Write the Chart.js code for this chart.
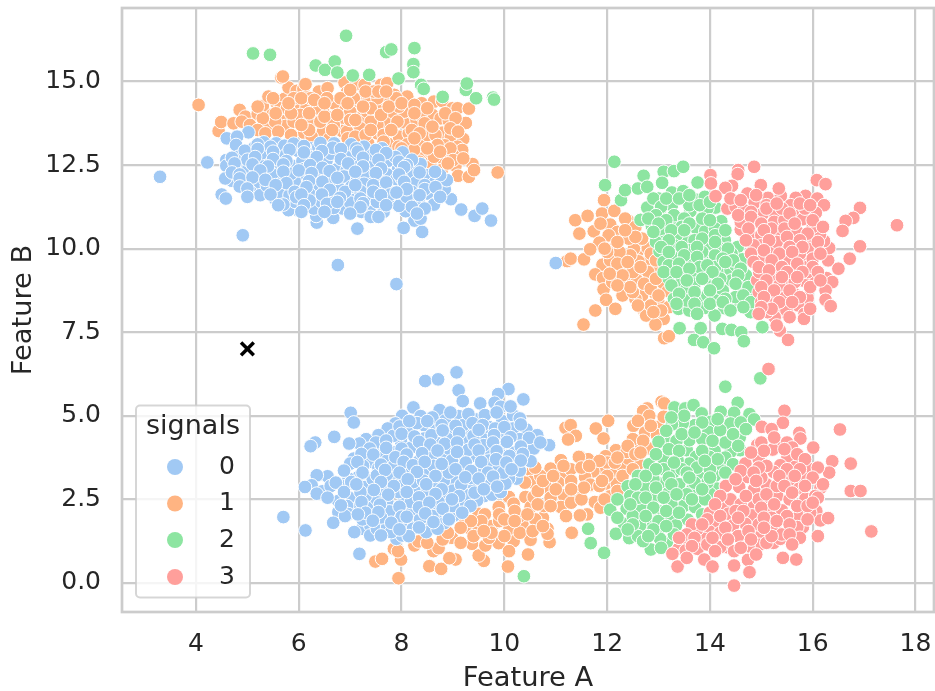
<!DOCTYPE html>
<html>
<head>
<meta charset="utf-8">
<title>signals scatter</title>
<script src="https://cdn.jsdelivr.net/npm/chart.js@4/dist/chart.umd.min.js"></script>
<style>
  html, body { margin: 0; padding: 0; background: #fff; }
  canvas { display: block; }
</style>
</head>
<body>
<canvas id="myChart" width="935" height="691"></canvas>
<script>
const signalNames = ['0', '1', '2', '3'];
const signalColors = ['#a1c9f4', '#ffb482', '#8de5a1', '#ff9f9b'];
const xTicks = [4, 6, 8, 10, 12, 14, 16, 18];
const yTicks = [0, 2.5, 5, 7.5, 10, 12.5, 15];
const crossPoint = [[5, 7]];

// [feature A, feature B]
const signal0 = [
  [3.3,12.15],[4.22,12.58],[4.91,10.4],[6.76,9.51],[7.9,8.94],[4.6,13.3],[5.02,13.48],[4.8,13.35],[4.78,13.1],[5.32,13.18],
  [5.56,13.15],[5.06,12.78],[4.83,12.75],[4.59,12.65],[4.59,12.48],[4.86,12.47],[5.33,12.67],[5.2,12.25],[5.59,12.42],[5.88,12.48],
  [5.98,12.93],[6.23,13.0],[6.19,12.75],[6.54,12.63],[6.69,13.15],[6.74,12.37],[6.11,12.17],[5.67,12.1],[5.51,12.05],[5.17,11.92],
  [4.93,12.03],[4.7,12.03],[4.57,12.1],[4.5,11.62],[4.58,11.5],[5.06,11.7],[5.25,11.6],[5.54,11.48],[6.02,11.83],[6.4,11.87],
  [6.76,11.88],[7.09,12.07],[7.09,12.58],[7.41,12.49],[7.74,12.63],[7.93,12.37],[7.46,12.08],[7.72,11.75],[8.03,11.9],[8.42,12.07],
  [8.37,12.53],[8.63,11.7],[8.5,11.65],[8.33,11.4],[8.63,11.32],[8.96,11.48],[9.16,11.17],[9.42,10.98],[9.57,11.2],[9.74,10.84],
  [8.4,10.5],[8.25,10.84],[8.37,10.9],[8.04,10.62],[8.08,11.12],[7.95,11.28],[7.65,11.1],[7.38,11.1],[7.22,11.1],[7.4,10.95],
  [7.14,10.6],[6.67,10.92],[6.86,11.2],[6.35,10.78],[6.34,10.98],[6.29,11.2],[6.44,11.4],[5.98,11.15],[5.8,11.15],[5.93,11.4],
  [6.94,11.55],[7.38,11.55],[7.52,11.4],[7.1,11.62],[6.68,11.22],[5.13,13.02],[5.72,13.08],[6.38,13.04],[6.92,12.96],[7.27,13.05],
  [7.62,13.0],[8.02,12.88],[5.29,12.86],[5.74,12.79],[6.07,12.62],[6.62,12.84],[7.02,12.79],[7.44,12.82],[7.88,12.74],[8.2,12.66],
  [5.02,12.4],[5.41,12.31],[6.38,12.44],[6.93,12.33],[7.29,12.28],[7.72,12.22],[8.17,12.3],[8.52,12.2],[5.48,12.23],[5.92,12.02],
  [6.43,12.14],[6.88,12.16],[7.27,11.94],[7.9,12.08],[8.28,11.98],[8.72,11.95],[5.38,11.88],[5.74,11.79],[6.2,11.65],[7.02,11.85],
  [7.56,11.78],[8.2,11.7],[8.84,11.78],[5.64,11.66],[5.82,11.6],[6.21,11.44],[6.61,11.6],[7.0,11.38],[7.74,11.5],[8.1,11.55],
  [6.6,12.02],[7.6,12.0],[8.0,12.1],[6.1,12.38],[6.9,11.7],[7.2,11.72],[5.85,12.24],[8.65,11.98],[8.88,12.05],[8.75,12.2],
  [5.2,13.12],[5.45,13.05],[5.9,13.14],[6.1,13.07],[6.42,13.16],[6.66,13.02],[7.02,13.12],[7.12,13.0],[4.95,12.93],[5.2,12.98],
  [5.5,12.9],[5.82,12.96],[6.1,12.88],[6.45,12.92],[6.82,12.98],[7.15,12.9],[7.5,12.95],[7.7,12.86],[4.7,12.72],[5.0,12.66],
  [5.15,12.74],[5.5,12.68],[5.76,12.62],[6.35,12.74],[6.82,12.68],[7.25,12.72],[7.55,12.66],[7.95,12.6],[8.1,12.5],[4.75,12.55],
  [5.1,12.52],[5.4,12.46],[5.7,12.52],[6.22,12.5],[6.46,12.42],[6.96,12.55],[7.25,12.46],[7.6,12.4],[8.05,12.44],[4.7,12.28],
  [4.85,12.22],[5.25,12.34],[5.7,12.3],[6.0,12.34],[6.25,12.26],[6.6,12.32],[7.1,12.3],[7.5,12.26],[7.95,12.22],[8.35,12.28],
  [8.65,12.3],[4.85,12.1],[5.1,12.13],[5.35,12.06],[5.76,11.96],[6.2,12.02],[6.46,12.0],[6.75,12.12],[7.1,11.9],[7.45,11.9],
  [7.7,11.98],[8.05,12.0],[8.45,11.9],[4.85,11.86],[5.0,11.8],[5.55,11.9],[5.92,11.7],[6.15,11.84],[6.6,11.76],[7.2,11.5],
  [7.45,11.7],[7.78,11.62],[8.1,11.78],[8.45,11.78],[8.66,11.84],[5.0,11.55],[5.45,11.62],[5.95,11.54],[6.05,11.62],[6.45,11.62],
  [6.8,11.52],[7.25,11.36],[7.6,11.6],[7.9,11.68],[8.35,11.6],[8.75,11.55],[5.7,11.32],[6.1,11.3],[6.55,11.34],[6.75,11.4],
  [7.2,11.24],[7.7,11.3],[8.2,11.25],[8.45,11.2],[6.05,11.1],[6.5,11.1],[7.0,11.05],[7.55,10.95],[8.3,11.05],[5.6,11.3],
  [11.0,9.57],
  [5.7,1.97],[6.13,1.57],[7.18,0.87],[9.07,6.3],[8.46,6.04],[8.71,6.09],[9.11,5.76],[9.19,5.44],[10.08,5.8],[9.88,5.65],
  [10.37,5.49],[9.53,5.37],[9.81,5.39],[9.93,5.27],[8.23,5.25],[7.01,5.09],[7.07,4.8],[8.01,5.0],[8.74,5.17],[9.11,4.99],
  [9.45,4.89],[9.96,4.84],[10.17,5.02],[8.37,4.99],[8.44,4.72],[7.88,4.77],[7.73,4.62],[7.55,4.42],[7.31,4.3],[7.18,4.17],
  [6.98,4.17],[6.69,4.37],[6.32,4.2],[6.23,4.09],[7.07,3.72],[7.0,3.57],[8.95,4.47],[9.36,4.49],[9.61,4.4],[10.17,4.62],
  [10.43,4.59],[10.64,4.42],[10.87,4.12],[10.41,4.12],[10.57,4.02],[8.12,4.5],[8.44,4.32],[7.99,4.22],[8.18,4.04],[7.9,3.92],
  [7.65,3.92],[7.42,3.62],[7.55,3.45],[7.16,3.17],[6.97,3.12],[7.29,2.87],[7.75,3.19],[6.56,3.19],[6.35,3.22],[6.25,2.92],
  [6.12,2.87],[6.46,2.74],[6.35,2.67],[6.92,2.9],[6.77,2.45],[6.77,2.12],[6.67,1.8],[7.08,2.3],[7.13,2.22],[7.39,2.25],
  [7.72,2.44],[8.04,2.42],[8.42,2.24],[7.51,2.52],[8.25,2.77],[7.94,3.04],[8.23,3.02],[8.46,3.29],[8.72,3.35],[8.8,3.75],
  [9.13,3.75],[9.47,3.77],[9.74,3.84],[9.21,3.4],[9.52,3.42],[9.86,3.45],[10.18,3.55],[10.51,3.64],[10.24,3.12],[10.09,3.12],
  [9.83,3.12],[9.58,2.92],[9.61,2.6],[9.05,3.02],[8.82,3.05],[8.62,2.89],[8.88,2.52],[9.19,2.34],[9.47,2.47],[8.14,1.84],
  [7.86,1.79],[8.53,1.74],[8.83,1.79],[7.9,1.32],[8.01,1.42],[8.48,1.52],[7.23,1.62],[7.08,1.52],[7.39,1.72],[7.39,1.42],
  [7.52,1.62],[7.72,1.67],[7.94,2.07],[9.02,2.02],[8.69,2.12],[9.76,2.64],[9.93,2.72],[10.02,2.97],[7.62,4.14],[7.84,4.4],
  [8.3,4.78],[8.66,4.6],[8.85,4.86],[9.2,4.72],[9.7,4.66],[10.3,4.3],[9.98,4.4],[9.22,4.22],[8.7,4.18],[8.92,4.02],
  [9.3,3.98],[9.95,4.08],[10.2,3.9],[7.25,3.5],[7.72,3.66],[8.32,3.62],[8.58,3.8],[8.1,3.34],[8.62,3.5],[8.98,3.66],
  [9.7,3.66],[9.98,3.8],[7.44,3.1],[7.6,2.8],[7.94,2.72],[8.5,2.7],[9.0,2.76],[9.36,2.8],[9.34,3.14],[8.04,2.94],
  [7.3,2.6],[6.98,2.55],[7.76,2.14],[8.2,2.12],[8.72,2.42],[8.18,2.42],[8.6,2.0],[7.6,1.96],[7.24,1.9],[8.36,1.9],
  [9.0,2.3],[9.3,2.62],[7.8,1.52],[8.22,1.62],[8.7,1.62],[7.52,3.22],[8.92,3.3],[9.74,2.96],[9.98,3.3],[10.3,3.36],
  [8.4,4.12],[9.6,4.12],[7.2,2.72],[6.62,2.9],[9.4,4.4],[8.9,4.3],[7.86,3.52],[7.02,3.02],[8.42,3.06],[9.16,2.94],
  [8.6,4.95],[8.95,5.1],[9.3,5.05],[9.62,5.02],[9.85,5.1],[10.12,5.28],[10.3,4.92],[7.96,4.68],[8.15,4.84],[8.5,4.84],
  [8.78,4.72],[9.05,4.7],[9.38,4.78],[9.58,4.72],[9.82,4.62],[10.0,4.66],[10.32,4.74],[7.5,4.2],[7.7,4.26],[8.0,4.46],
  [8.25,4.38],[8.58,4.42],[8.8,4.56],[9.12,4.48],[9.5,4.58],[9.8,4.42],[10.12,4.36],[10.48,4.34],[7.38,4.02],[7.7,4.04],
  [8.0,4.02],[8.34,4.22],[8.56,4.14],[8.84,4.16],[9.08,4.2],[9.42,4.14],[9.78,4.2],[10.05,4.22],[10.32,4.08],[10.7,4.2],
  [7.22,3.86],[7.45,3.84],[7.88,3.76],[8.1,3.84],[8.4,3.88],[8.7,3.96],[9.08,3.92],[9.5,3.96],[9.85,3.94],[10.1,3.8],
  [10.36,3.86],[7.14,3.62],[7.6,3.54],[8.04,3.62],[8.22,3.52],[8.45,3.62],[8.78,3.56],[9.25,3.6],[9.55,3.62],[9.84,3.7],
  [10.04,3.6],[10.32,3.66],[6.88,3.36],[7.24,3.3],[7.68,3.38],[7.96,3.3],[8.3,3.32],[8.66,3.2],[9.05,3.4],[9.35,3.35],
  [9.68,3.3],[10.14,3.4],[6.72,3.0],[7.12,2.95],[7.6,3.02],[7.85,2.9],[8.12,3.1],[8.48,2.95],[8.78,2.8],[9.24,3.16],
  [9.5,3.12],[9.78,3.18],[6.56,2.55],[6.88,2.72],[7.46,2.78],[7.74,2.64],[8.1,2.72],[8.34,2.56],[8.66,2.66],[9.12,2.6],
  [9.42,2.7],[9.86,2.88],[6.94,2.3],[7.22,2.42],[7.58,2.34],[7.96,2.28],[8.34,2.26],[8.54,2.4],[8.98,2.5],[9.34,2.3],
  [6.96,2.06],[7.3,2.1],[7.55,2.12],[8.0,1.98],[8.46,2.08],[8.8,2.22],[7.44,1.86],[7.8,1.8],[8.1,1.98],[8.34,1.66],
  [8.62,1.82],[8.92,1.9],[7.6,1.42],[8.14,1.4],[7.96,1.6],[6.9,2.0],[7.15,2.05],[6.82,2.32],[9.18,2.1],[9.6,2.8]
];

const signal1 = [
  [4.05,14.3],[4.44,13.52],[4.49,13.79],[4.85,14.15],[4.96,13.95],[4.73,13.75],[4.89,13.8],[5.2,14.03],[5.3,14.27],[5.41,14.55],
  [5.57,14.35],[5.72,14.48],[5.8,14.82],[5.96,14.72],[6.09,14.78],[6.13,14.92],[6.39,14.7],[6.56,14.8],[5.66,15.12],[5.69,15.15],
  [5.48,14.0],[5.7,13.95],[5.4,13.65],[5.74,13.67],[6.1,13.47],[5.96,14.2],[6.15,14.22],[6.26,13.8],[6.47,14.15],[6.47,13.5],
  [6.63,13.92],[6.81,14.2],[6.81,13.8],[6.84,13.52],[6.68,14.35],[6.89,14.97],[6.94,14.68],[7.12,14.92],[7.28,14.9],[7.14,14.3],
  [7.23,14.5],[7.36,14.45],[7.09,13.62],[7.19,13.9],[7.33,14.1],[7.6,14.9],[7.72,14.95],[7.86,14.6],[8.11,14.55],[7.6,14.25],
  [7.69,14.45],[7.82,14.0],[7.69,13.75],[7.53,13.45],[7.35,13.15],[7.77,13.12],[7.95,13.35],[8.05,13.78],[8.14,13.45],[8.11,13.12],
  [8.39,13.18],[8.18,14.1],[8.39,14.35],[8.63,14.4],[8.79,14.42],[8.99,14.2],[9.09,14.2],[9.31,14.19],[8.6,14.0],[8.76,13.9],
  [8.92,13.82],[8.3,13.7],[8.29,13.85],[9.25,13.76],[8.79,13.47],[8.96,13.35],[9.2,13.28],[9.09,13.05],[9.18,12.95],[8.84,13.09],
  [8.16,12.73],[8.56,12.5],[8.81,12.68],[8.78,12.35],[9.05,12.48],[9.38,12.53],[9.1,12.18],[9.31,12.15],[9.41,12.35],[9.87,12.28],
  [8.4,12.75],[8.56,12.9],[8.63,12.75],[7.53,13.7],[6.81,14.5],[6.55,14.5],[6.35,14.2],[5.9,13.8],[5.54,13.8],[6.23,14.5],
  [5.9,14.5],[7.53,14.5],[7.07,14.5],[7.0,14.1],[7.4,13.8],[7.9,14.5],[8.05,14.1],[8.37,14.0],[8.5,13.4],[8.66,13.4],
  [8.7,13.1],[7.65,13.4],[7.92,13.8],[6.42,13.8],[6.68,13.7],[5.64,14.2],[6.03,14.0],[5.3,13.9],[5.77,14.2],[7.2,13.6],
  [6.94,13.5],[7.46,14.7],[7.94,13.05],[8.24,12.95],[9.0,12.8],
  [5.05,13.7],[5.2,13.55],[5.35,13.45],[5.6,13.5],[5.85,13.4],[6.25,13.35],[6.6,13.3],[6.95,13.3],[7.1,13.35],[7.3,13.4],
  [5.55,14.05],[5.85,14.05],[6.2,14.05],[6.5,13.95],[6.75,14.0],[7.0,13.85],[7.4,14.2],[7.6,14.0],[7.95,14.25],[8.2,13.55],
  [5.2,14.25],[5.5,14.5],[5.8,14.35],[6.05,14.5],[6.3,14.45],[6.5,14.35],[6.95,14.35],[7.3,14.7],[7.55,14.7],[7.75,14.25],
  [8.0,14.35],[8.25,14.3],[8.5,14.2],[8.85,14.05],[9.05,13.9],[8.45,13.75],[8.6,13.65],[8.95,13.6],[9.1,13.5],[8.35,13.45],
  [7.8,13.55],[7.4,13.55],[7.1,13.85],[6.2,13.55],[6.05,13.7],[6.65,13.55],[7.0,14.75],[7.7,14.7],[8.25,14.05],[7.25,14.25],
  [8.5,13.0],[8.25,13.3],[8.0,13.0],[7.65,13.2],[8.95,13.0],[8.35,12.6],[8.75,12.9],[9.0,12.65],[9.2,12.7],[8.9,12.55],
  [11.22,9.63],[11.29,9.7],[11.55,9.68],[11.38,10.85],[11.62,10.98],[11.46,10.45],[11.74,10.52],[11.94,11.45],[11.9,11.05],[12.14,11.13],
  [12.06,10.72],[11.87,10.75],[12.2,10.5],[12.03,10.4],[11.85,10.18],[11.67,9.98],[12.13,10.0],[12.4,10.85],[12.35,10.9],[12.55,10.65],
  [12.29,9.75],[12.61,9.95],[12.79,10.02],[12.52,10.0],[11.91,9.52],[11.77,9.23],[11.92,9.12],[12.13,9.35],[12.32,9.42],[12.39,9.08],
  [11.93,8.78],[12.31,8.85],[11.98,8.47],[12.16,8.2],[11.77,8.15],[11.54,7.73],[12.69,9.18],[12.81,9.6],[12.61,9.62],[12.97,9.28],
  [13.09,8.95],[12.78,8.85],[13.18,8.73],[12.68,8.6],[12.55,8.5],[13.0,8.38],[12.94,8.65],[12.71,8.17],[12.76,8.0],[12.99,7.95],
  [13.1,7.9],[12.94,7.73],[13.11,7.32],[13.2,7.38],[13.2,8.25],[12.45,9.4],[12.22,9.2],[12.58,9.05],[12.45,9.8],[12.68,10.3],
  [12.06,9.65],[12.42,10.3],[12.24,9.9],[12.1,9.0],[12.5,9.3],[12.8,9.3],[12.3,8.6],[12.5,8.7],[12.85,8.3],[12.2,10.2],
  [12.55,10.35],[12.35,10.55],[12.2,9.55],[12.0,9.9],[11.95,10.0],[12.4,9.6],[12.65,9.45],[12.3,9.2],[12.72,8.95],[12.45,8.85],
  [12.85,8.8],[12.95,9.1],[13.0,8.6],[12.6,8.3],[13.05,8.15],[12.9,8.1],[12.05,9.25],[12.2,8.9],[12.85,9.85],[12.95,9.65],
  [7.94,0.14],[7.49,0.64],[7.62,0.72],[7.99,0.7],[7.85,1.02],[7.93,0.95],[8.25,1.12],[8.33,1.24],[8.54,0.5],[8.77,0.42],
  [9.05,0.7],[8.93,0.74],[8.62,0.95],[8.72,1.04],[8.98,1.35],[9.6,0.66],[9.5,0.82],[9.37,1.17],[9.63,1.12],[9.89,1.19],
  [10.18,1.25],[10.09,0.95],[10.51,1.29],[10.88,1.22],[10.46,0.85],[10.07,0.49],[10.84,1.62],[10.84,1.47],[11.32,1.5],[11.48,2.02],
  [11.61,2.05],[9.23,1.92],[9.34,1.62],[9.47,1.5],[9.5,2.07],[9.76,1.7],[9.89,2.27],[10.09,2.57],[10.18,2.37],[10.35,1.77],
  [10.41,2.57],[10.51,2.27],[10.57,2.57],[10.75,1.95],[10.77,2.3],[10.54,3.32],[10.51,3.02],[10.84,2.87],[10.9,3.42],[11.1,3.67],
  [11.14,3.27],[11.29,3.4],[11.16,2.62],[11.42,2.72],[11.68,2.92],[11.58,3.17],[11.78,3.32],[11.1,2.27],[11.78,2.42],[11.47,3.77],
  [11.63,3.7],[11.19,4.64],[11.29,4.72],[11.39,4.4],[11.24,4.29],[11.78,4.62],[12.02,4.85],[12.51,4.7],[11.93,4.32],[12.74,4.5],
  [13.0,4.67],[12.97,4.42],[12.49,4.24],[12.64,4.02],[12.17,3.97],[11.97,3.79],[11.45,3.77],[12.38,3.52],[12.15,3.34],[11.87,3.37],
  [11.73,3.34],[12.61,3.57],[11.57,3.17],[11.67,2.94],[11.97,2.97],[12.19,2.97],[11.41,2.72],[12.06,2.59],[11.76,2.42],[11.87,2.25],
  [11.47,2.02],[11.31,1.5],[12.28,3.52],[12.41,3.72],[12.83,4.02],[12.38,3.92],[13.06,5.42],[13.11,5.37],[12.78,5.22],[12.7,5.14],
  [12.82,5.0],[13.1,4.97],[9.62,2.05],[9.9,1.85],[10.1,1.62],[10.3,2.0],[10.6,1.9],[9.7,1.35],[10.0,1.4],[10.3,1.5],
  [10.9,2.55],[11.05,3.0],[10.65,2.75],[11.3,3.05],[11.2,2.0],[9.4,1.4],[9.15,1.2],[8.8,1.3],[8.5,1.2],[10.4,3.0],
  [10.7,3.2],[11.5,3.45],[12.0,3.6],[12.3,3.2],[12.5,4.3],
  [9.55,1.85],[9.9,2.05],[10.2,2.15],[10.45,2.05],[10.65,2.35],[10.9,2.3],[11.0,2.8],[10.75,3.05],[10.95,3.2],[10.6,3.45],
  [11.3,2.4],[11.5,2.5],[11.55,2.85],[11.85,2.9],[11.95,2.5],[10.0,1.9],[10.2,1.85],[9.75,1.5],[9.35,1.85],[9.15,1.65],
  [8.9,1.5],[9.6,1.55],[10.55,1.55],[10.75,1.7],[12.15,3.6],[11.85,3.65],[11.65,3.5],[12.7,4.25],[12.85,4.7],[12.6,4.85],
  [12.4,4.1],[12.55,3.85],[12.2,3.75],[12.5,3.4],[12.65,3.9],[12.0,3.2],[12.2,2.75],[11.9,3.05],[11.3,2.8],[11.15,3.5]
];

const signal2 = [
  [6.92,16.37],[5.11,15.84],[5.44,15.8],[6.33,15.48],[6.51,15.35],[6.7,15.6],[6.75,15.27],[7.05,15.18],[7.37,15.2],[7.7,15.88],
  [7.8,15.96],[8.25,16.0],[8.23,15.52],[8.23,15.28],[7.94,15.09],[8.38,14.9],[8.43,14.78],[8.8,14.54],[9.25,14.75],[9.27,14.94],
  [9.45,14.5],[9.78,14.52],[9.8,14.46],
  [12.14,12.6],[11.96,11.9],[12.27,11.45],[12.35,11.75],[12.6,11.8],[12.71,12.18],[12.78,11.85],[13.1,12.3],[13.3,12.32],[13.48,12.45],
  [13.07,11.97],[13.76,11.98],[13.26,11.68],[13.48,11.72],[13.0,11.5],[12.78,11.23],[13.02,11.05],[13.26,11.3],[13.72,11.47],[13.62,11.12],
  [14.11,11.23],[13.95,11.2],[12.65,10.86],[12.87,10.68],[13.07,10.55],[13.31,10.8],[13.73,10.62],[13.91,10.52],[14.22,10.82],[13.52,10.32],
  [14.29,10.25],[14.54,10.05],[13.02,9.92],[13.2,9.7],[13.36,9.75],[13.91,9.65],[13.23,9.37],[13.48,9.23],[13.74,9.25],[13.95,9.2],
  [14.27,9.42],[14.4,9.37],[14.63,9.68],[13.48,8.78],[14.04,8.87],[14.63,8.87],[13.82,8.52],[13.39,8.2],[13.6,8.15],[13.91,8.23],
  [14.28,8.22],[14.54,8.32],[14.92,8.17],[14.79,8.1],[14.09,8.0],[13.41,7.62],[13.82,7.62],[13.69,7.27],[13.87,7.2],[14.08,7.02],
  [14.24,7.6],[14.42,7.57],[14.61,7.5],[14.66,7.23],[15.02,7.65],[12.9,11.5],[13.3,11.0],[13.6,11.3],[13.9,11.55],[13.5,10.9],
  [13.85,10.9],[14.1,10.6],[13.1,10.2],[13.35,10.4],[13.7,10.25],[13.98,10.15],[14.2,10.0],[12.95,10.2],[13.3,10.1],[13.6,9.95],
  [13.85,9.9],[14.1,9.8],[14.42,9.85],[13.1,9.6],[13.62,9.55],[14.1,9.45],[14.5,9.5],[13.32,9.0],[13.7,8.95],[13.95,8.6],
  [14.25,8.75],[14.42,9.05],[14.7,9.2],[14.8,8.6],[13.3,8.5],[13.55,8.45],[14.1,8.45],[14.5,8.55],[13.2,9.1],[14.2,9.1],
  [13.05,11.25],[13.15,11.5],[13.4,11.5],[13.6,11.6],[13.8,11.3],[14.0,11.4],[12.95,11.0],[13.15,10.85],[13.45,10.65],[13.6,10.75],
  [14.0,10.85],[12.8,10.9],[13.0,10.75],[13.25,10.55],[13.5,10.55],[13.85,10.3],[14.1,10.4],[14.3,10.55],[12.9,10.5],[13.2,10.25],
  [13.45,10.05],[13.75,10.05],[14.1,10.2],[14.35,10.0],[13.05,10.05],[13.2,9.9],[13.5,9.8],[13.75,9.75],[14.25,9.7],[14.45,9.65],
  [13.2,9.5],[13.4,9.55],[13.8,9.45],[13.95,9.5],[14.3,9.6],[14.6,9.4],[13.1,9.3],[13.35,9.3],[13.6,9.4],[14.05,9.3],
  [14.55,9.2],[13.25,8.9],[13.55,9.05],[13.85,9.1],[14.15,8.95],[14.5,8.95],[14.75,8.85],[13.4,8.65],[13.7,8.7],[14.0,8.75],
  [14.3,8.5],[14.65,8.6],[14.8,8.4],[13.35,8.35],[13.7,8.35],[14.0,8.35],[14.25,8.4],[14.65,8.25],[14.4,8.15],[13.75,8.05],
  [10.38,0.2],[11.63,1.62],[11.68,1.19],[11.94,0.9],[14.3,5.87],[14.98,6.12],[14.54,5.39],[13.31,5.25],[13.52,5.22],[13.68,5.32],
  [13.84,5.07],[14.21,5.12],[14.47,5.09],[14.77,5.05],[14.86,4.89],[14.4,4.77],[14.02,4.82],[13.71,4.72],[13.47,4.77],[13.26,4.74],
  [13.97,4.52],[14.2,4.57],[14.58,4.35],[14.59,3.97],[14.4,3.92],[14.09,3.95],[13.99,3.77],[13.55,3.97],[13.73,3.77],[13.6,3.57],
  [13.37,3.67],[13.13,4.27],[13.0,4.22],[13.6,4.27],[14.23,3.49],[14.09,3.2],[13.81,3.15],[13.29,3.3],[12.82,3.55],[13.03,2.97],
  [12.64,2.84],[12.4,2.89],[12.89,2.52],[12.38,2.22],[12.06,2.19],[12.67,2.22],[13.66,2.8],[13.49,2.3],[13.71,2.27],[13.24,1.97],
  [13.57,1.89],[12.85,1.9],[12.33,1.77],[12.17,1.47],[12.43,1.34],[12.74,1.67],[13.0,1.57],[13.16,1.22],[12.85,1.0],[13.34,1.72],
  [14.14,2.82],[14.0,2.67],[12.64,1.72],[13.03,1.32],[13.1,3.7],[13.1,3.4],[12.9,3.1],[12.6,3.2],[12.75,2.85],[12.45,2.6],
  [13.2,2.7],[13.4,2.95],[13.95,3.0],[13.75,3.45],[14.0,3.4],[13.35,4.25],[13.85,4.3],[14.3,4.2],[14.3,3.75],[13.45,3.4],
  [13.9,2.5],[13.25,2.35],[13.0,2.15],[12.6,2.55],[13.0,1.85],[12.5,2.0],[13.85,2.05],[13.3,1.45],[12.6,1.4],[13.7,3.0],
  [13.5,5.0],[13.25,4.95],[13.85,4.8],[14.15,4.9],[14.6,4.8],[13.15,4.55],[13.45,4.45],[13.7,4.5],[14.05,4.25],[14.45,4.45],
  [14.7,4.6],[13.2,4.0],[13.4,3.95],[13.85,3.95],[14.15,3.7],[14.45,3.55],[12.95,3.85],[13.3,3.6],[13.55,3.3],[13.9,3.65],
  [12.95,3.4],[13.2,3.15],[13.6,3.15],[14.0,3.15],[12.75,3.2],[12.95,2.85],[13.25,2.95],[13.55,2.65],[13.85,2.8],[12.55,2.95],
  [12.75,2.55],[13.1,2.55],[13.35,2.65],[13.65,2.5],[12.45,2.35],[12.9,2.25],[13.15,2.15],[13.4,2.1],[12.2,2.5],[12.75,2.0],
  [12.5,1.75],[12.9,1.6],[13.15,1.7],[12.2,1.95],[12.4,1.6],[12.7,1.25],[13.05,1.05],[12.8,1.4],[14.3,3.3],[14.55,4.1]
];

const signal3 = [
  [14.01,12.2],[14.02,11.95],[14.55,12.35],[14.54,12.23],[14.86,12.45],[14.99,11.9],[14.43,11.88],[14.3,11.82],[14.73,11.65],[14.11,11.57],
  [14.34,11.2],[14.5,11.25],[14.66,11.15],[14.87,11.38],[15.13,11.52],[15.38,11.58],[15.34,11.8],[15.86,11.58],[15.67,11.52],[16.08,12.05],
  [16.25,11.93],[16.09,11.5],[16.22,11.3],[16.06,11.07],[15.67,11.13],[15.57,11.3],[15.03,11.05],[15.28,11.0],[15.81,10.88],[15.54,10.77],
  [15.25,10.8],[14.87,10.82],[14.6,10.57],[14.81,10.37],[14.6,10.8],[16.92,11.22],[16.79,10.92],[16.64,10.83],[16.58,10.53],[17.64,10.7],
  [16.92,10.07],[16.72,9.7],[16.3,9.65],[16.32,10.02],[16.22,10.23],[16.08,10.0],[15.96,10.2],[16.14,10.42],[15.6,10.24],[15.19,9.9],
  [14.91,9.9],[15.44,9.65],[15.88,9.68],[15.9,9.45],[15.03,9.44],[15.64,9.3],[15.99,9.18],[15.8,9.05],[16.27,9.12],[16.38,9.0],
  [14.92,9.05],[14.95,8.7],[15.15,8.72],[15.41,8.85],[16.25,8.75],[16.25,8.47],[16.35,8.28],[15.65,8.63],[15.9,8.52],[15.72,8.3],
  [15.84,8.05],[15.83,7.9],[15.38,8.1],[15.49,8.15],[15.26,7.95],[15.36,7.55],[15.52,7.27],[15.15,6.4],[15.12,8.1],[15.0,10.4],
  [15.3,10.4],[15.0,10.1],[15.4,10.1],[15.7,10.5],[15.9,10.0],[15.3,9.4],[15.55,9.7],[15.2,9.1],[15.5,9.0],[15.75,9.85],
  [16.0,9.7],[15.05,9.7],[15.2,8.4],[15.45,8.55],[15.1,8.4],[15.0,8.4],[14.85,10.1],[15.45,10.85],[15.1,11.3],[15.4,11.2],
  [16.5,9.4],[16.0,10.65],[15.9,9.3],[14.96,9.3],[15.65,9.0],[15.35,8.9],[14.8,11.1],[15.85,11.2],
  [14.4,11.5],[14.6,11.45],[14.9,11.6],[15.1,11.2],[15.3,11.35],[15.55,11.05],[15.75,11.35],[15.95,11.3],[14.55,11.0],[14.8,10.95],
  [15.0,10.75],[15.2,10.6],[15.45,10.6],[15.65,10.75],[15.9,10.45],[16.0,10.85],[14.75,10.6],[15.05,10.55],[15.3,10.2],[15.5,10.35],
  [15.75,10.25],[16.2,10.65],[14.7,10.25],[15.15,10.25],[15.55,10.05],[15.8,10.05],[16.1,10.2],[14.8,9.85],[15.05,9.95],[15.35,9.85],
  [15.6,9.9],[16.15,9.85],[14.85,9.6],[15.2,9.65],[15.4,9.45],[15.7,9.55],[16.0,9.45],[14.95,9.45],[15.15,9.35],[15.5,9.3],
  [15.8,9.3],[16.1,9.3],[15.1,9.05],[15.4,9.15],[15.7,9.15],[15.95,8.85],[15.0,8.85],[15.25,8.75],[15.55,8.75],[15.75,8.55],
  [15.05,8.55],[15.35,8.4],[15.6,8.4],[15.2,8.2],[15.95,8.2],[15.0,8.25],[14.95,8.05],[15.55,7.95],[15.3,7.7],[16.15,9.05],
  [15.14,6.4],[15.45,5.15],[15.42,4.79],[16.53,4.59],[15.74,4.49],[15.76,4.32],[15.31,4.17],[15.5,4.2],[16.01,4.05],[15.01,4.67],
  [14.92,4.12],[15.22,3.99],[14.95,3.7],[14.69,3.57],[15.51,3.77],[15.66,3.47],[15.96,3.4],[16.38,3.64],[16.32,3.3],[16.74,3.57],
  [16.74,2.75],[16.93,2.75],[17.14,1.54],[16.15,2.84],[15.74,2.84],[15.37,3.52],[15.24,3.32],[14.73,3.17],[14.31,2.9],[14.57,2.87],
  [14.86,2.8],[15.1,2.95],[15.31,2.6],[15.86,2.52],[15.4,2.17],[14.85,2.27],[14.27,2.32],[14.82,2.02],[14.36,2.07],[14.14,1.84],
  [14.69,1.77],[15.27,1.6],[15.73,1.99],[16.07,2.15],[16.15,1.87],[16.3,1.94],[15.81,1.67],[15.7,1.67],[16.1,1.4],[15.0,1.44],
  [14.66,1.39],[13.99,1.54],[14.45,1.72],[13.88,1.32],[13.47,1.22],[13.39,1.02],[13.53,0.97],[13.76,1.02],[13.27,0.87],[13.37,0.49],
  [13.89,0.7],[14.05,0.49],[14.33,1.07],[14.47,0.95],[14.47,0.52],[14.74,0.69],[14.77,0.32],[14.47,-0.08],[15.42,0.75],[15.68,0.7],
  [15.24,1.2],[14.96,1.14],[15.37,1.32],[14.2,1.07],[14.4,2.5],[14.6,2.35],[14.95,2.5],[15.15,2.3],[15.55,2.5],[15.55,3.1],
  [15.1,3.5],[15.0,3.15],[15.8,3.15],[15.5,2.0],[15.2,1.95],[14.95,1.75],[15.4,1.45],[15.75,1.35],[14.2,1.5],[13.75,1.6],
  [14.0,2.1],[14.55,1.4],[14.75,1.1],[13.95,1.15],[15.1,1.2],[15.95,2.1],[16.05,2.6],[15.3,2.9],[15.0,4.2],[15.6,4.05],
  [15.2,4.6],[15.25,4.35],[15.45,4.0],[15.05,3.95],[14.8,3.9],[15.7,3.85],[15.85,3.7],[14.95,3.45],[15.5,3.4],[15.75,3.4],
  [16.1,3.45],[14.6,3.35],[14.85,3.3],[15.35,3.2],[15.65,3.2],[16.0,3.15],[14.5,3.1],[14.9,3.05],[15.45,2.9],[15.85,2.9],
  [16.2,2.95],[14.2,2.6],[14.7,2.6],[15.1,2.65],[15.6,2.7],[16.1,2.55],[14.1,2.35],[14.5,2.15],[14.65,2.15],[15.0,2.25],
  [15.25,2.35],[15.7,2.3],[15.9,2.3],[16.0,2.4],[13.95,1.9],[14.2,2.0],[14.55,1.95],[15.05,1.95],[15.3,1.85],[15.55,1.75],
  [15.9,1.9],[13.65,1.75],[13.85,1.75],[14.3,1.65],[14.75,1.55],[15.2,1.4],[15.55,1.45],[13.55,1.45],[13.7,1.35],[14.05,1.35],
  [14.35,1.3],[14.8,1.3],[15.05,1.65],[13.4,1.35],[13.65,1.1],[14.1,0.95],[14.6,1.05],[14.9,0.85],[15.6,1.15],[13.55,0.75]
];

function toPoints(rows) {
  return rows.map(function (r) { return { x: r[0], y: r[1] }; });
}

// top one is 3, bottom one is 1, same look as the original overlap
const drawOrder = [2, 3, 1, 0];

const datasets = signalNames.map(function (name, i) {
  return {
    label: name,
    data: toPoints([signal0, signal1, signal2, signal3][i]),
    order: drawOrder[i],
    backgroundColor: signalColors[i],
    borderColor: '#ffffff',
    borderWidth: 1,
    pointRadius: 6.85,
    pointHoverRadius: 6.85
  };
});

datasets.push({
  label: 'x',
  data: toPoints(crossPoint),
  order: -1,
  pointStyle: 'crossRot',
  borderColor: '#000000',
  backgroundColor: '#000000',
  borderWidth: 3.5,
  pointRadius: 9
});

const framePlugin = {
  id: 'frame',
  beforeDatasetsDraw(chart) {
    const a = chart.chartArea;
    const ctx = chart.ctx;
    ctx.save();
    ctx.strokeStyle = '#cccccc';
    ctx.lineWidth = 2.7;
    ctx.strokeRect(a.left, a.top, a.right - a.left, a.bottom - a.top);
    ctx.restore();
  }
};

// seaborn style legend sitting inside the axes
const legendPlugin = {
  id: 'signalsLegend',
  afterDraw(chart) {
    const ctx = chart.ctx;
    ctx.save();
    ctx.beginPath();
    ctx.roundRect(136, 405.5, 114, 192, 4);
    ctx.fillStyle = 'rgba(255,255,255,0.8)';
    ctx.fill();
    ctx.strokeStyle = 'rgba(204,204,204,0.8)';
    ctx.lineWidth = 2;
    ctx.stroke();

    ctx.fillStyle = '#262626';
    ctx.font = '27px "DejaVu Sans"';
    ctx.textBaseline = 'middle';
    ctx.textAlign = 'center';
    ctx.fillText('signals', 193, 427);

    ctx.font = '25px "DejaVu Sans"';
    const rowY = [467, 503.5, 540, 577];
    signalNames.forEach(function (name, i) {
      ctx.beginPath();
      ctx.arc(175, rowY[i], 8, 0, Math.PI * 2);
      ctx.fillStyle = signalColors[i];
      ctx.fill();
      ctx.fillStyle = '#262626';
      ctx.textAlign = 'left';
      ctx.fillText(name, 219, rowY[i]);
    });
    ctx.restore();
  }
};

new Chart(document.getElementById('myChart').getContext('2d'), {
  type: 'scatter',
  data: { datasets: datasets },
  plugins: [framePlugin, legendPlugin],
  options: {
    responsive: false,
    animation: false,
    layout: { autoPadding: false, padding: { top: 8, right: 1, left: 0, bottom: 0 } },
    plugins: {
      legend: { display: false },
      tooltip: { enabled: false }
    },
    scales: {
      x: {
        type: 'linear',
        min: 2.56,
        max: 18.36,
        afterBuildTicks(scale) { scale.ticks = xTicks.map(v => ({ value: v })); },
        afterFit(scale) {
          scale.height = 79;
          scale.paddingLeft = 0;
          scale.paddingRight = 0;
        },
        ticks: {
          color: '#262626',
          font: { family: 'DejaVu Sans', size: 25 },
          padding: 17,
          maxRotation: 0,
          callback: v => String(v)
        },
        grid: { color: '#cccccc', lineWidth: 2.2, drawTicks: false },
        border: { display: false },
        title: {
          display: true,
          text: 'Feature A',
          color: '#262626',
          font: { family: 'DejaVu Sans', size: 27.3, lineHeight: 1 },
          padding: { top: 4, bottom: -2 }
        }
      },
      y: {
        type: 'linear',
        min: -0.87,
        max: 17.2,
        afterBuildTicks(scale) { scale.ticks = yTicks.map(v => ({ value: v })); },
        afterFit(scale) {
          scale.width = 122;
          scale.paddingTop = 0;
          scale.paddingBottom = 0;
        },
        ticks: {
          color: '#262626',
          font: { family: 'DejaVu Sans', size: 25 },
          padding: 21,
          callback: v => v.toFixed(1)
        },
        grid: { color: '#cccccc', lineWidth: 2.2, drawTicks: false },
        border: { display: false },
        title: {
          display: true,
          text: 'Feature B',
          color: '#262626',
          font: { family: 'DejaVu Sans', size: 27.3, lineHeight: 1 },
          padding: { top: 10, bottom: 0 }
        }
      }
    }
  }
});
</script>
</body>
</html>
